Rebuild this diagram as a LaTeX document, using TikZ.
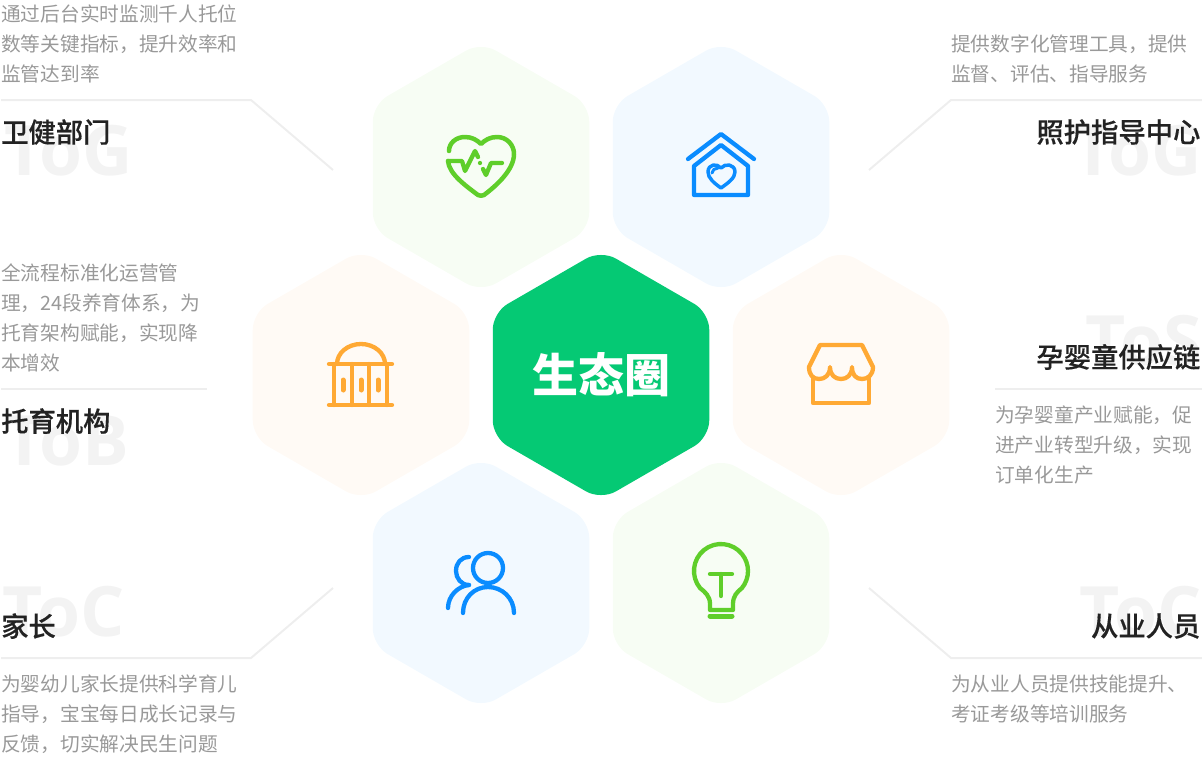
\documentclass[tikz,border=0pt]{standalone}
\usepackage{fontspec}
\setmainfont{Noto Sans CJK SC}
\newfontfamily\titlefont[FakeBold=0.35]{Noto Sans CJK SC Medium}
\newfontfamily\ghostfont{Open Sans}
\usetikzlibrary{shapes.geometric}
\definecolor{tintgreen}{HTML}{F7FDF4}
\definecolor{tintblue}{HTML}{F2F9FF}
\definecolor{tintorange}{HTML}{FFFAF5}
\definecolor{hubgreen}{HTML}{05C974}
\definecolor{icongreen}{HTML}{5FCE2A}
\definecolor{iconblue}{HTML}{0A8CFF}
\definecolor{iconorange}{HTML}{FFA934}
\definecolor{ghostgray}{HTML}{F3F3F3}
\definecolor{leadergray}{HTML}{EEEEEE}
\definecolor{descgray}{HTML}{999999}
\definecolor{titleblack}{HTML}{222222}
\begin{document}
\begin{tikzpicture}[x=1pt,y=-1pt]
	\tikzstyle{Hexagon} = [regular polygon, regular polygon sides=6, shape border rotate=30, minimum size=250pt, inner sep=0pt, rounded corners=17pt]
	\tikzstyle{Ghost} = [inner sep=0pt, text=ghostgray, font=\ghostfont\bfseries\fontsize{69.5}{70}\selectfont]
	\tikzstyle{Title} = [inner sep=0pt, text=titleblack, font=\titlefont\fontsize{27.3}{30}\selectfont]
	\tikzstyle{Desc} = [inner sep=0pt, text=descgray, align=left, font=\fontsize{19.7}{30}\selectfont]
	\tikzstyle{Leader} = [draw=leadergray, line width=2pt]
	\tikzstyle{Icon} = [line width=4.3pt, line cap=round, line join=round]
	\useasboundingbox (0,0) rectangle (1202,758);

	\node (hubtl) at (481,167) [Hexagon, fill=tintgreen] {};
	\node (hubtr) at (721,167) [Hexagon, fill=tintblue] {};
	\node (hubl) at (361,375) [Hexagon, fill=tintorange] {};
	\node (hubr) at (841,375) [Hexagon, fill=tintorange] {};
	\node (hubbl) at (481,583) [Hexagon, fill=tintblue] {};
	\node (hubbr) at (721,583) [Hexagon, fill=tintgreen] {};
	\node (hub) at (601,375) [Hexagon, fill=hubgreen, text=white, font=\bfseries\fontsize{46}{46}\selectfont] {\raisebox{-1.5pt}{生态圈}};

	\node (ghosttl) at (4,175) [Ghost, anchor=base west] {ToG};
	\node (ghosttr) at (1202,175) [Ghost, anchor=base east] {ToG};
	\node (ghostl) at (4,465) [Ghost, anchor=base west] {ToB};
	\node (ghostr) at (1202,365) [Ghost, anchor=base east] {ToS};
	\node (ghostbl) at (2,636) [Ghost, anchor=base west] {ToC};
	\node (ghostbr) at (1202,636) [Ghost, anchor=base east] {ToC};

	\node (titletl) at (1,132) [Title, anchor=west] {卫健部门};
	\node (titletr) at (1200.5,132) [Title, anchor=east] {照护指导中心};
	\node (titlel) at (1,421) [Title, anchor=west] {托育机构};
	\node (titler) at (1200.5,357) [Title, anchor=east] {孕婴童供应链};
	\node (titlebl) at (1,626) [Title, anchor=west] {家长};
	\node (titlebr) at (1200.5,626) [Title, anchor=east] {从业人员};

	\node (desctl) at (1,44) [Desc, anchor=west] {通过后台实时监测千人托位\\数等关键指标，提升效率和\\监管达到率};
	\node (desctr) at (951,59) [Desc, anchor=west] {提供数字化管理工具，提供\\监督、评估、指导服务};
	\node (descl) at (1,318) [Desc, anchor=west] {全流程标准化运营管\\理，24段养育体系，为\\托育架构赋能，实现降\\本增效};
	\node (descr) at (995,445) [Desc, anchor=west] {为孕婴童产业赋能，促\\进产业转型升级，实现\\订单化生产};
	\node (descbl) at (1,714) [Desc, anchor=west] {为婴幼儿家长提供科学育儿\\指导，宝宝每日成长记录与\\反馈，切实解决民生问题};
	\node (descbr) at (951,699) [Desc, anchor=west] {为从业人员提供技能提升、\\考证考级等培训服务};

	\coordinate (lefttl) at (1,100);
	\coordinate (bendtl) at (251,100);
	\coordinate (endtl) at (333,170);
	\coordinate (righttr) at (1202,100);
	\coordinate (bendtr) at (951,100);
	\coordinate (endtr) at (869,170);
	\coordinate (leftl) at (1,389);
	\coordinate (endl) at (207,389);
	\coordinate (rightr) at (1202,389);
	\coordinate (endr) at (995,389);
	\coordinate (leftbl) at (1,658);
	\coordinate (bendbl) at (251,658);
	\coordinate (endbl) at (333,588);
	\coordinate (rightbr) at (1202,658);
	\coordinate (bendbr) at (951,658);
	\coordinate (endbr) at (869,588);
	\draw [Leader] (lefttl) -- (bendtl) -- (endtl);
	\draw [Leader] (righttr) -- (bendtr) -- (endtr);
	\draw [Leader] (leftl) -- (endl);
	\draw [Leader] (rightr) -- (endr);
	\draw [Leader] (leftbl) -- (bendbl) -- (endbl);
	\draw [Leader] (rightbr) -- (bendbr) -- (endbr);

	\draw [Icon, icongreen, line width=4.5pt] (449,151) .. controls (449,143) and (456,137) .. (465,137) .. controls (472,137) and (477,140) .. (481,144) .. controls (485,140) and (490,137) .. (497,137) .. controls (507,137) and (514,145) .. (514,154) .. controls (514,170) and (496,186) .. (484,195) .. controls (482,196) and (480,196) .. (478,195) .. controls (466,186) and (449,174) .. (448,161);
	\draw [Icon, icongreen] (448,161) -- (462,161) -- (465,171) -- (475,151) -- (478,157);
	\draw [Icon, icongreen] (480,163) -- (480,163);
	\draw [Icon, icongreen] (483,169) -- (486,175) -- (491,163) -- (502,163);

	\draw [Icon, iconblue] (688,159) -- (721,134) -- (754,159);
	\draw [Icon, iconblue] (694,166) -- (721,145) -- (748,166) -- (748,195) -- (694,195) -- cycle;
	\draw [Icon, iconblue, line width=3.5pt] (721,188) .. controls (714,183) and (708,178) .. (708,172) .. controls (708,164) and (717,163) .. (721,168) .. controls (725,163) and (735,164) .. (735,172) .. controls (735,178) and (728,183) .. (721,188) -- cycle;
	\draw [Icon, iconblue, line width=3pt] (712,173) .. controls (712,170) and (715,168) .. (718,168);

	\draw [Icon, iconorange] (329,364) -- (392,364);
	\draw [Icon, iconorange] (329,405) -- (392,405);
	\draw [Icon, iconorange] (337,364) arc (180:360:24 and 20);
	\draw [Icon, iconorange] (334,364) -- (334,405);
	\draw [Icon, iconorange] (352,364) -- (352,405);
	\draw [Icon, iconorange] (369,364) -- (369,405);
	\draw [Icon, iconorange] (387,364) -- (387,405);
	\draw [Icon, iconorange, line width=5pt] (343,380) -- (343,390);
	\draw [Icon, iconorange, line width=5pt] (361,380) -- (361,390);
	\draw [Icon, iconorange, line width=5pt] (378,380) -- (378,390);

	\draw [Icon, iconorange] (820,345) -- (862,345) -- (873,367) .. controls (873,375) and (868,379) .. (862,379) .. controls (856,379) and (852,375) .. (852,367) .. controls (852,375) and (847,379) .. (841,379) .. controls (835,379) and (830,375) .. (830,367) .. controls (830,375) and (825,379) .. (819,379) .. controls (813,379) and (809,375) .. (809,367) -- cycle;
	\draw [Icon, iconorange] (813,378) -- (813,403) -- (869,403) -- (869,378);

	\draw [Icon, iconblue] (488,568) circle [radius=15];
	\draw [Icon, iconblue] (463,613) .. controls (463,598) and (474,587) .. (488,587) .. controls (502,587) and (514,598) .. (514,613);
	\draw [Icon, iconblue] (469,557) .. controls (461,557) and (456,563) .. (456,571) .. controls (456,578) and (461,585) .. (469,585);
	\draw [Icon, iconblue] (448,608) .. controls (448,596) and (458,586) .. (469,585);

	\draw [Icon, icongreen] (710,610) -- (710,604) .. controls (710,596) and (705,592) .. (700,588) arc (141:399:27) .. controls (737,592) and (733,596) .. (733,604) -- (733,610) -- cycle;
	\draw [Icon, icongreen, line width=5pt] (710,616) -- (732,616);
	\draw [Icon, icongreen] (710,574) -- (732,574);
	\draw [Icon, icongreen] (721,574) -- (721,596);
\end{tikzpicture}
\end{document}
